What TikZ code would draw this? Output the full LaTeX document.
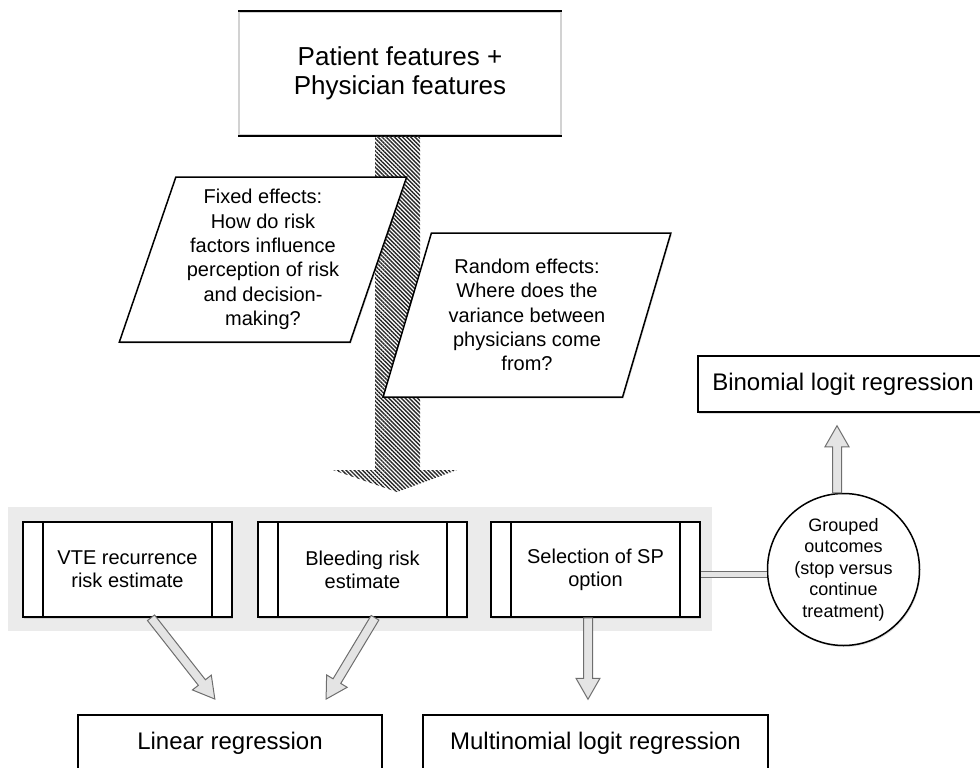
\documentclass[tikz,border=0pt]{standalone}
\usepackage{fontspec}
\setmainfont{Liberation Sans}
\usetikzlibrary{positioning,shapes.geometric,calc,shadows,patterns.meta}

\definecolor{panelgray}{HTML}{EBEBEB}
\definecolor{arrowline}{HTML}{6E6E6E}
\definecolor{arrowfill}{HTML}{E4E4E4}

% outlined block arrow between two points
\newcommand{\blockarrow}[2]{%
  \draw[blockline] let \p1=(#1), \p2=(#2),
      \n1={atan2(\y2-\y1,\x2-\x1)}, \n2={veclen(\x2-\x1,\y2-\y1)} in
    {[shift={(\p1)}, rotate=\n1]
      (0pt,4.5pt) -- ({\n2*1pt-21pt},4.5pt) -- ({\n2*1pt-21pt},12pt)
      -- ({\n2*1pt},0pt) -- ({\n2*1pt-21pt},-12pt) -- ({\n2*1pt-21pt},-4.5pt)
      -- (0pt,-4.5pt) -- cycle};
}

\begin{document}
\begin{tikzpicture}[x=1pt, y=-1pt,
    box/.style={draw, line width=1.5pt, fill=white,
        drop shadow={shadow xshift=1pt, shadow yshift=-1.5pt, opacity=0.25}},
    process/.style={box, minimum width=209pt, minimum height=95pt, align=center,
        font=\fontsize{20}{23}\selectfont,
        path picture={\draw[line width=1.5pt]
            ([xshift=20pt]path picture bounding box.north west) -- ([xshift=20pt]path picture bounding box.south west)
            ([xshift=-20pt]path picture bounding box.north east) -- ([xshift=-20pt]path picture bounding box.south east);}},
    question/.style={box, trapezium, trapezium left angle=70.6, trapezium right angle=109.4,
        trapezium stretches=true, minimum width=288pt, minimum height=165pt, inner sep=1pt,
        align=center, font=\fontsize{20}{24.3}\selectfont},
    result/.style={box, minimum height=56pt, font=\fontsize{24}{29}\selectfont},
    hatch/.style={pattern={Lines[angle=-45, distance=2.9pt, line width=1.4pt]}, pattern color=black!85},
    blockline/.style={draw=arrowline, fill=arrowfill, line width=1pt, line join=miter},
    doubleline/.style={draw=arrowline, double=arrowfill, double distance=5pt, line width=1pt}]

    \path[use as bounding box, clip] (0,0) rectangle (980,768);

    % Input features
    \node[box, draw=gray!35, minimum width=322pt, minimum height=123pt, align=center,
        font=\fontsize{26}{29}\selectfont] (features) at (400,73.5) {Patient features +\\Physician features};
    \draw[line width=1.5pt] (features.north west) -- (features.north east)
        (features.south west) -- (features.south east);

    % Hatched model arrow
    \coordinate (flowtip) at (397,492);
    \fill[hatch] ($(features.south)+(-25,0)$) -- ($(features.south)+(20,0)$)
        -- ($(flowtip)+(23,-22)$) -- ($(flowtip)+(60,-22)$) -- (flowtip)
        -- ($(flowtip)+(-64,-22)$) -- ($(flowtip)+(-22,-22)$) -- cycle;

    % Questions
    \node[question] (fixed) at (263,259.5) {Fixed effects:\\How do risk\\factors influence\\perception of risk\\and decision-\\making?};
    \node[question, minimum height=164pt] (random) at (527,315) {Random effects:\\Where does the\\variance between\\physicians come\\from?};

    % Outcome measures
    \node[fill=panelgray, minimum width=704pt, minimum height=124pt] (panel) at (360,569) {};
    \foreach \x/\name/\txt in {127.5/vte/{VTE recurrence\\risk estimate},
                              362.5/bleed/{Bleeding risk\\estimate},
                              595.5/select/{Selection of SP\\option}} {
        \node[process] (\name) at (\x,569.5) {\txt};
    }

    % Grouped outcome
    \node[box, circle, minimum size=152pt, inner sep=0pt, align=center,
        font=\fontsize{18}{21.5}\selectfont] (grouped) at (843.5,569.5) {Grouped\\outcomes\\(stop versus\\continue\\treatment)};

    % Regression models
    \node[result, minimum width=304pt] (linear) at (230,743) {Linear regression};
    \node[result, minimum width=345pt] (multi) at (595.5,743) {Multinomial logit regression};
    \node[result, minimum width=290pt] (binomial) at (843,384) {Binomial logit regression};

    % Connections
    \blockarrow{$(vte.south)+(23.5,0)$}{$(linear.north)+(-15,-15)$}
    \blockarrow{$(bleed.south)+(12.5,0)$}{$(linear.north)+(96,-15)$}
    \blockarrow{$(select.south)+(-7.5,0)$}{$(multi.north)+(-7.5,-15)$}
    \blockarrow{$(grouped.north)+(-6.5,0)$}{$(binomial.south)+(-6,13)$}
    \draw[doubleline] ($(select.east)+(0,5)$) -- ($(grouped.west)+(0,5)$);
\end{tikzpicture}
\end{document}
